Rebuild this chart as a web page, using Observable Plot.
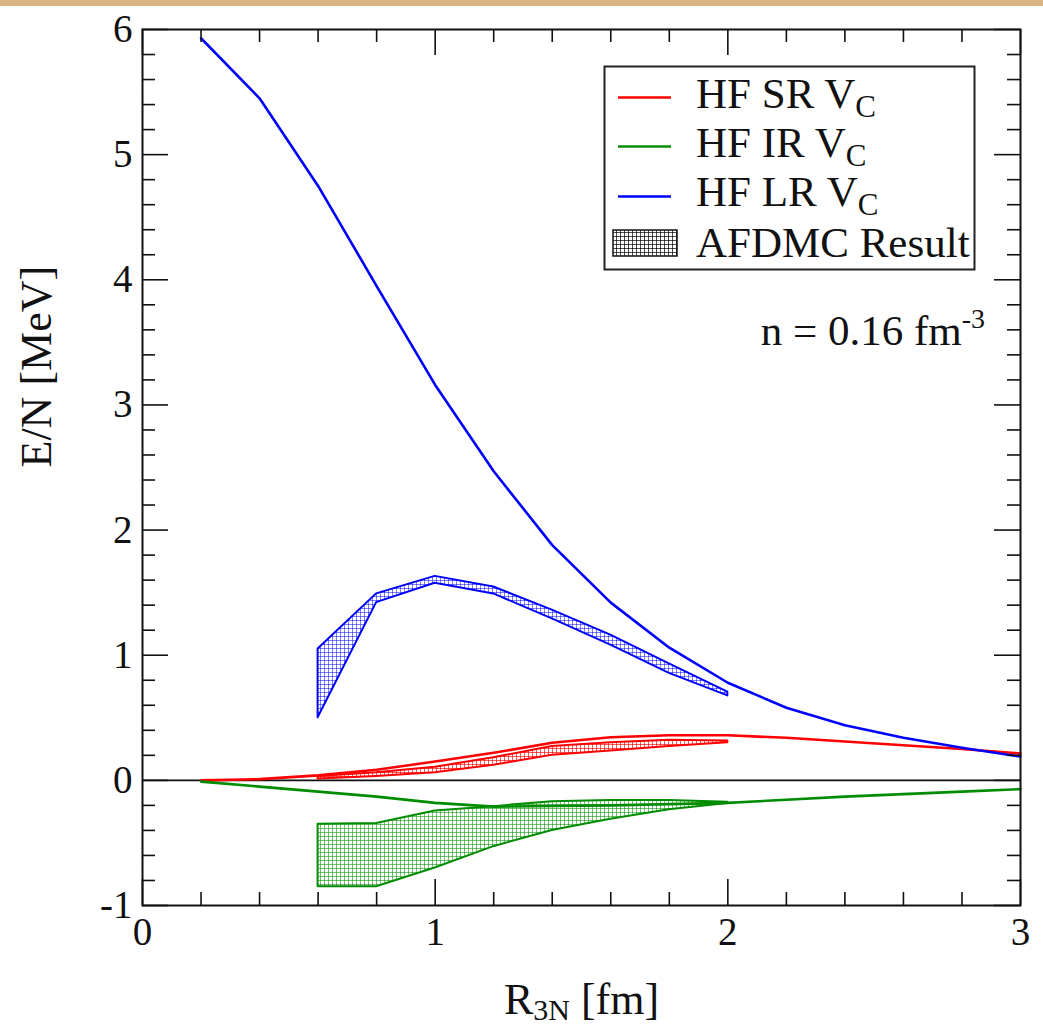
<!DOCTYPE html>
<html>
<head>
<meta charset="utf-8">
<script src="https://cdn.jsdelivr.net/npm/d3@7"></script>
<script src="https://cdn.jsdelivr.net/npm/@observablehq/plot@0.6"></script>
<style>
  html, body { margin: 0; padding: 0; background: white; }
  #wrap { position: relative; width: 1043px; height: 1031px; overflow: hidden; }
  #topbar { position: absolute; left: 0; top: 0; width: 1043px; height: 6px; background: #d9b382; z-index: 2; }
</style>
</head>
<body>
<div id="wrap"><div id="topbar"></div></div>
<script>
// ---- data ----
const R = [0.2, 0.4, 0.6, 0.8, 1.0, 1.2, 1.4, 1.6, 1.8, 2.0, 2.2, 2.4, 2.6, 2.8, 3.0];
const hfSR = [0.00, 0.01, 0.04, 0.085, 0.15, 0.22, 0.30, 0.345, 0.36, 0.36, 0.34, 0.31, 0.28, 0.25, 0.215];
const hfIR = [-0.01, -0.05, -0.09, -0.13, -0.18, -0.21, -0.205, -0.20, -0.19, -0.18, -0.155, -0.13, -0.11, -0.09, -0.07];
const hfLR = [5.93, 5.45, 4.75, 3.95, 3.16, 2.47, 1.88, 1.42, 1.06, 0.78, 0.58, 0.44, 0.34, 0.26, 0.19];

const bandR = [0.6, 0.8, 1.0, 1.2, 1.4, 1.6, 1.8, 2.0];
const afdmcSRlow  = [0.01, 0.03, 0.06, 0.12, 0.20, 0.235, 0.27, 0.30];
const afdmcSRhigh = [0.03, 0.06, 0.105, 0.18, 0.27, 0.30, 0.32, 0.315];
const afdmcIRlow  = [-0.85, -0.85, -0.70, -0.53, -0.40, -0.31, -0.235, -0.185];
const afdmcIRhigh = [-0.35, -0.345, -0.245, -0.21, -0.17, -0.16, -0.16, -0.175];
const afdmcLRlow  = [0.50, 1.42, 1.575, 1.49, 1.29, 1.08, 0.855, 0.675];
const afdmcLRhigh = [1.05, 1.49, 1.63, 1.545, 1.36, 1.16, 0.93, 0.705];

const xMajor = [0, 1, 2, 3];
const yMajor = [-1, 0, 1, 2, 3, 4, 5, 6];
const xMinor = d3.range(0, 3.001, 0.2).map(v => +v.toFixed(1)).filter(v => !xMajor.includes(v));
const yMinor = d3.range(-1, 6.001, 0.2).map(v => +v.toFixed(1)).filter(v => !yMajor.includes(v));

const seriesNames = ["HF SR V", "HF IR V", "HF LR V"];
const seriesColors = ["#ff0000", "#008c00", "#0000ff"];
const bandLabel = "AFDMC Result";
const xLabel = "R3N [fm]";
const yLabel = "E/N [MeV]";

// ---- build rows ----
const lineRows = [];
[hfSR, hfIR, hfLR].forEach((arr, s) => R.forEach((r, i) => lineRows.push({r, e: arr[i], s})));
const bands = [[afdmcSRlow, afdmcSRhigh], [afdmcIRlow, afdmcIRhigh], [afdmcLRlow, afdmcLRhigh]]
  .map(([lo, hi]) => bandR.map((r, i) => ({r, lo: lo[i], hi: hi[i]})));
const patIds = ["patRed", "patGreen", "patBlue"];

const W = 1043, H = 1031, mL = 142, mR = 23, mT = 29, mB = 126;
const PW = W - mL - mR, PH = H - mT - mB;
const FONT = "'Liberation Serif', 'Times New Roman', serif";

const marks = [
  Plot.ruleY([0], {stroke: "#111", strokeWidth: 1.6}),
  ...bands.map((b, k) => Plot.areaY(b, {x: "r", y1: "lo", y2: "hi", fill: `url(#${patIds[k]})`, stroke: seriesColors[k], strokeWidth: 2, strokeLinejoin: "round"})),
  ...[0, 1, 2].map(k => Plot.line(lineRows.filter(d => d.s === k), {x: "r", y: "e", stroke: seriesColors[k], strokeWidth: 2.6})),
  // ticks (inward) on all four sides
  Plot.tickX(xMajor, {x: d => d, insetTop: PH - 26, stroke: "#111", strokeWidth: 1.6}),
  Plot.tickX(xMinor, {x: d => d, insetTop: PH - 13, stroke: "#111", strokeWidth: 1.6}),
  Plot.tickX(xMajor, {x: d => d, insetBottom: PH - 26, stroke: "#111", strokeWidth: 1.6}),
  Plot.tickX(xMinor, {x: d => d, insetBottom: PH - 13, stroke: "#111", strokeWidth: 1.6}),
  Plot.tickY(yMajor, {y: d => d, insetRight: PW - 26, stroke: "#111", strokeWidth: 1.6}),
  Plot.tickY(yMinor, {y: d => d, insetRight: PW - 13, stroke: "#111", strokeWidth: 1.6}),
  Plot.tickY(yMajor, {y: d => d, insetLeft: PW - 26, stroke: "#111", strokeWidth: 1.6}),
  Plot.tickY(yMinor, {y: d => d, insetLeft: PW - 13, stroke: "#111", strokeWidth: 1.6}),
  Plot.frame({stroke: "#111", strokeWidth: 2}),
  Plot.axisX(xMajor, {anchor: "bottom", tickSize: 0, tickPadding: 12, fontSize: 39, tickFormat: d => String(d), label: null}),
  Plot.axisY(yMajor, {anchor: "left", tickSize: 0, tickPadding: 10, fontSize: 39, tickFormat: d => String(d), label: null}),
  Plot.text([xLabel], {frameAnchor: "bottom", dy: 108, fontSize: 44, lineAnchor: "bottom", fill: "#111"}),
  Plot.text([yLabel], {frameAnchor: "left", dx: -106, rotate: -90, fontSize: 44, fill: "#111"})
];

const chart = Plot.plot({
  width: W, height: H,
  marginLeft: mL, marginRight: mR, marginTop: mT, marginBottom: mB,
  x: {domain: [0, 3], axis: null},
  y: {domain: [-1, 6], axis: null},
  style: {fontFamily: FONT, background: "white", color: "#111", overflow: "visible"},
  marks
});
document.getElementById("wrap").appendChild(chart);

// ---- patterns, subscripts, legend ----
const svg = d3.select(chart);
const defs = svg.insert("defs", ":first-child");
function pattern(id, color, op) {
  const p = defs.append("pattern").attr("id", id).attr("width", 4).attr("height", 4).attr("patternUnits", "userSpaceOnUse");
  p.append("rect").attr("width", 4).attr("height", 4).attr("fill", "white");
  p.append("path").attr("d", "M0,0.5H4M0.5,0V4").attr("stroke", color).attr("stroke-width", 1).attr("stroke-opacity", op);
}
pattern("patRed", "#ff0000", 0.65);
pattern("patGreen", "#008c00", 0.55);
pattern("patBlue", "#0000ff", 0.5);
pattern("patBlack", "#000000", 0.7);

svg.selectAll("text").each(function() {
  const t = d3.select(this);
  if (this.textContent === xLabel) {
    t.text(null);
    t.append("tspan").text("R");
    t.append("tspan").attr("font-size", 30).attr("dy", 6).text("3N");
    t.append("tspan").attr("dy", -6).text(" [fm]");
  }
});

const lg = svg.append("g").attr("font-family", FONT).attr("fill", "#111").attr("text-anchor", "start");
lg.append("rect").attr("x", 604.5).attr("y", 66.5).attr("width", 370).attr("height", 203)
  .attr("fill", "white").attr("stroke", "#222").attr("stroke-width", 2);
const rowBase = [108, 157, 206];
const rowLine = [97.5, 146.5, 196.5];
seriesNames.forEach((name, k) => {
  lg.append("line").attr("x1", 618).attr("x2", 671).attr("y1", rowLine[k]).attr("y2", rowLine[k])
    .attr("stroke", seriesColors[k]).attr("stroke-width", 2.6);
  const t = lg.append("text").attr("x", 696).attr("y", rowBase[k]).attr("font-size", 43).attr("text-anchor", "start");
  t.append("tspan").text(name);
  t.append("tspan").attr("font-size", 31).attr("dy", 9).text("C");
});
lg.append("rect").attr("x", 613).attr("y", 230).attr("width", 64).attr("height", 26)
  .attr("fill", "url(#patBlack)").attr("stroke", "#111").attr("stroke-width", 1.5);
lg.append("text").attr("x", 696).attr("y", 257).attr("font-size", 43).attr("text-anchor", "start").text(bandLabel);

const note = lg.append("text").attr("x", 985).attr("y", 345).attr("text-anchor", "end").attr("font-size", 43);
note.append("tspan").text("n = 0.16 fm");
note.append("tspan").attr("font-size", 28).attr("dy", -17).text("-3");
</script>
</body>
</html>
